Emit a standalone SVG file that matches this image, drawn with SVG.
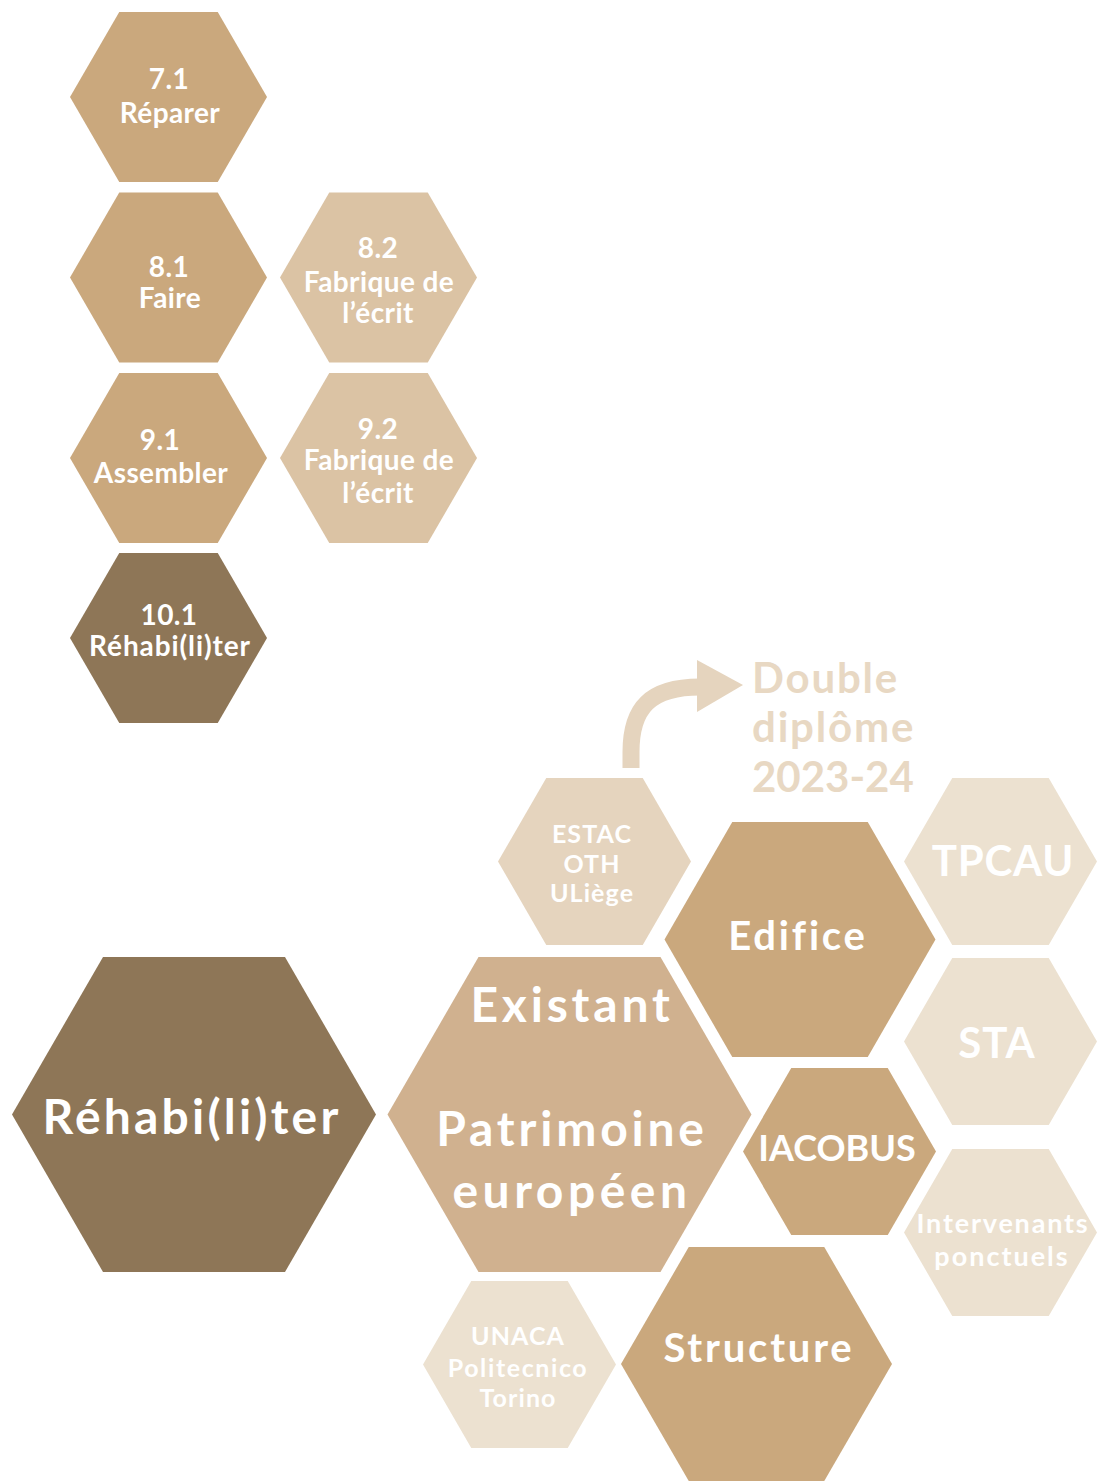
<svg xmlns="http://www.w3.org/2000/svg" width="1097" height="1482" viewBox="0 0 1097 1482">
<style>
text{font-family:Lato,"Open Sans","Liberation Sans",sans-serif;font-weight:700;fill:#ffffff;text-anchor:middle}
.c1{fill:#CAA87D}
.c2{fill:#DBC3A4}
.c3{fill:#8E7657}
.c4{fill:#D0B18F}
.c5{fill:#E5D4BE}
.c6{fill:#ECE1D0}
.s28{font-size:28px;letter-spacing:0.4px}
.s48{font-size:48px;letter-spacing:3.8px}
.s40{font-size:40px;letter-spacing:2.8px}
.s25{font-size:25px;letter-spacing:1.1px}
.dd{font-size:42px;fill:#E8D8C3;text-anchor:start;letter-spacing:1.8px}
</style>
<rect width="1097" height="1482" fill="#ffffff"/>
<g id="n71"><polygon class="c1" points="70,97 119.25,12 217.75,12 267,97 217.75,182 119.25,182"/><text class="s28" x="169" y="89">7.1</text><text class="s28" x="170" y="123">Réparer</text></g>
<g id="n81"><polygon class="c1" points="70,277.5 119.25,192.5 217.75,192.5 267,277.5 217.75,362.5 119.25,362.5"/><text class="s28" x="169" y="277">8.1</text><text class="s28" x="170" y="308">Faire</text></g>
<g id="n82"><polygon class="c2" points="280,277.5 329.25,192.5 427.75,192.5 477,277.5 427.75,362.5 329.25,362.5"/><text class="s28" x="378" y="258">8.2</text><text class="s28" x="379" y="292">Fabrique de</text><text class="s28" x="378" y="323">l’écrit</text></g>
<g id="n91"><polygon class="c1" points="70,458 119.25,373 217.75,373 267,458 217.75,543 119.25,543"/><text class="s28" x="160" y="450">9.1</text><text class="s28" x="161" y="483">Assembler</text></g>
<g id="n92"><polygon class="c2" points="280,458 329.25,373 427.75,373 477,458 427.75,543 329.25,543"/><text class="s28" x="378" y="439">9.2</text><text class="s28" x="379" y="470">Fabrique de</text><text class="s28" x="378" y="503">l’écrit</text></g>
<g id="n101"><polygon class="c3" points="70,638 119.25,553 217.75,553 267,638 217.75,723 119.25,723"/><text class="s28" x="169" y="625">10.1</text><text class="s28" x="170" y="656" style="letter-spacing:0.9px">Réhabi(li)ter</text></g>
<g id="connectors"><path d="M631,768 L631,752 C631,708 650,687 700,687" fill="none" stroke="#E5D4BE" stroke-width="17"/><polygon points="697,660 743,685 697,712" fill="#E5D4BE"/></g>
<g id="double"><text class="dd" x="752" y="693">Double</text><text class="dd" x="752" y="742">diplôme</text><text class="dd" x="752" y="792" style="letter-spacing:0">2023-24</text></g>
<g id="estac"><polygon class="c5" points="498,861.5 546.25,778 642.75,778 691,861.5 642.75,945 546.25,945"/><text class="s25" x="592" y="843">ESTAC</text><text class="s25" x="592" y="873">OTH</text><text class="s25" x="592" y="902">ULiège</text></g>
<g id="tpcau"><polygon class="c6" points="904,861.5 952.25,778 1048.75,778 1097,861.5 1048.75,945 952.25,945"/><text x="1003" y="876" style="font-size:42px;letter-spacing:0.8px">TPCAU</text></g>
<g id="sta"><polygon class="c6" points="904,1041.5 952.25,958 1048.75,958 1097,1041.5 1048.75,1125 952.25,1125"/><text x="997" y="1058" style="font-size:42px;letter-spacing:1px">STA</text></g>
<g id="interv"><polygon class="c6" points="904,1232.5 952.25,1149 1048.75,1149 1097,1232.5 1048.75,1316 952.25,1316"/><text x="1003" y="1233" style="font-size:27px;letter-spacing:1.8px">Intervenants</text><text x="1002" y="1266" style="font-size:27px;letter-spacing:2px">ponctuels</text></g>
<g id="edifice"><polygon class="c1" points="664.5,939.5 732.25,822 867.75,822 935.5,939.5 867.75,1057 732.25,1057"/><text class="s40" x="798" y="950">Edifice</text></g>
<g id="iacobus"><polygon class="c1" points="743,1151.5 791.25,1068 887.75,1068 936,1151.5 887.75,1235 791.25,1235"/><text x="837" y="1161" style="font-size:36px">IACOBUS</text></g>
<g id="rehab"><polygon class="c3" points="12,1114.5 103,957 285,957 376,1114.5 285,1272 103,1272"/><text class="s48" x="192" y="1134" style="letter-spacing:3.2px">Réhabi(li)ter</text></g>
<g id="existant"><polygon class="c4" points="387.5,1114.5 478.5,957 660.5,957 751.5,1114.5 660.5,1272 478.5,1272"/><text class="s48" x="572" y="1022">Existant</text><text class="s48" x="572" y="1146">Patrimoine</text><text class="s48" x="572" y="1208" style="letter-spacing:4.5px">européen</text></g>
<g id="unaca"><polygon class="c6" points="423,1364.5 471.25,1281 567.75,1281 616,1364.5 567.75,1448 471.25,1448"/><text class="s25" x="518" y="1345">UNACA</text><text class="s25" x="518" y="1377" style="letter-spacing:1.6px">Politecnico</text><text class="s25" x="518" y="1407">Torino</text></g>
<g id="structure"><polygon class="c1" points="621,1364 688.75,1247 824.25,1247 892,1364 824.25,1481 688.75,1481"/><text class="s40" x="759" y="1362">Structure</text></g>
</svg>
